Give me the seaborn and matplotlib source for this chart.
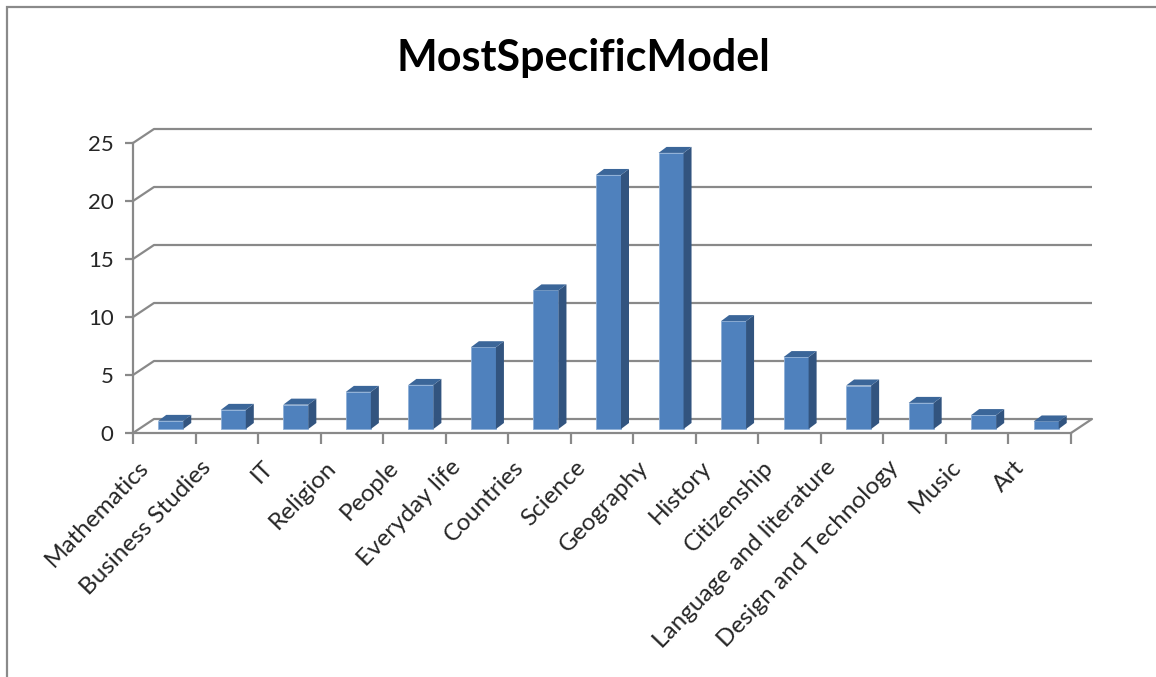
import numpy as np
import pandas as pd
import matplotlib
matplotlib.use("Agg")
import matplotlib.pyplot as plt
from matplotlib.patches import Polygon, Rectangle
from matplotlib.transforms import ScaledTranslation
import seaborn as sns

# Share of items per subject
categories = ["Mathematics", "Business Studies", "IT", "Religion", "People",
              "Everyday life", "Countries", "Science", "Geography", "History",
              "Citizenship", "Language and literature", "Design and Technology",
              "Music", "Art"]
values = [0.7, 1.65, 2.1, 3.2, 3.8, 7.05, 11.95, 21.9, 23.8, 9.3, 6.2, 3.75,
          2.25, 1.2, 0.65]
yticks = [0, 5, 10, 15, 20, 25]
title = "MostSpecificModel"

df = pd.DataFrame({"category": categories, "value": values})

sns.set_theme(style="white")
plt.rcParams["font.family"] = ["Lato", "DejaVu Sans"]

W, H = 1156, 677
fig = plt.figure(figsize=(W / 100, H / 100), dpi=100)
fig.patch.set_facecolor("white")

# chart area border
fig.patches.append(Rectangle((7 / W, -0.1), 2.0, (H - 7) / H + 0.1,
                             transform=fig.transFigure, fill=False,
                             edgecolor="#8a8a8a", linewidth=1.6))

fig.text(583 / W, 1 - 58 / H, title, ha="center", va="center",
         fontsize=31, fontweight="bold", color="black")

# plot area in pixels
x_front_left, x_front_right, x_back_right = 133, 1071, 1092
y_zero, y_top = 433, 127
n = len(categories)
px_cat = (x_front_right - x_front_left) / n
px_val = 11.6

ax = fig.add_axes([x_front_left / W, 1 - y_zero / H,
                   (x_back_right - x_front_left) / W, (y_zero - y_top) / H])
ax.set_facecolor("none")

grid_c = "#898989"
lw = 1.6

# depth of the back wall and of each column, in data units
wall_dx, wall_dy = 21 / px_cat, 14 / px_val
bar_sx, bar_sy = 6.5 / px_cat, 4 / px_val
bar_dx, bar_dy = 8 / px_cat, 6 / px_val
bar_w = 25 / px_cat

sns.barplot(data=df, x="category", y="value", ax=ax, color="#4f81bd",
            saturation=1, width=bar_w, edgecolor="#8fb0d8", linewidth=0.6,
            zorder=3)
ax.set_xlim(-0.5, -0.5 + (x_back_right - x_front_left) / px_cat)
ax.set_ylim(0, (y_zero - y_top) / px_val)

# back wall gridlines with their joints to the value axis
x_lo, x_hi = -0.5, n - 0.5
for t in yticks:
    ax.plot([x_lo, x_lo + wall_dx, x_hi + wall_dx], [t, t + wall_dy, t + wall_dy],
            color=grid_c, lw=lw, solid_capstyle="butt", zorder=1, clip_on=False)
# right edge of the floor
ax.plot([x_hi, x_hi + wall_dx], [0, wall_dy], color=grid_c, lw=lw,
        zorder=1, clip_on=False)

side_c, top_c = "#32547f", "#3b6699"
for patch, v in zip(ax.patches, values):
    x0 = patch.get_x() + bar_sx
    patch.set_x(x0)
    patch.set_y(bar_sy)
    x1 = x0 + bar_w
    y0, y1 = bar_sy, bar_sy + v
    side = Polygon([(x1, y0), (x1 + bar_dx, y0 + bar_dy),
                    (x1 + bar_dx, y1 + bar_dy), (x1, y1)],
                   closed=True, facecolor=side_c, edgecolor="none", zorder=3)
    top = Polygon([(x0, y1), (x1, y1), (x1 + bar_dx, y1 + bar_dy),
                   (x0 + bar_dx, y1 + bar_dy)],
                  closed=True, facecolor=top_c, edgecolor="none", zorder=3)
    ax.add_patch(side)
    ax.add_patch(top)

# axes
for s in ["top", "right"]:
    ax.spines[s].set_visible(False)
for s in ["left", "bottom"]:
    ax.spines[s].set_color(grid_c)
    ax.spines[s].set_linewidth(lw)
    ax.spines[s].set_zorder(2)
ax.spines["left"].set_bounds(0, yticks[-1])
ax.spines["bottom"].set_bounds(x_lo, x_hi)

ax.set_yticks(yticks)
ax.set_yticklabels([str(t) for t in yticks], fontsize=16)
ax.tick_params(axis="y", direction="out", length=6, width=lw, color=grid_c,
               pad=8, left=True)

ax.set_xticks(np.arange(n))
ax.set_xticklabels(categories, fontsize=17.5, rotation=46, ha="right",
                   rotation_mode="anchor")
ax.set_xticks(np.arange(n + 1) - 0.5, minor=True)
ax.tick_params(axis="x", which="major", length=0, pad=14)
ax.tick_params(axis="x", which="minor", direction="out", length=8, width=lw,
               color=grid_c, bottom=True)
shift = ScaledTranslation(-0.27, -0.04, fig.dpi_scale_trans)
for lab in ax.get_xticklabels():
    lab.set_transform(lab.get_transform() + shift)
ax.set_xlabel("")
ax.set_ylabel("")

fig.savefig("out.png", dpi=100, facecolor="white")
